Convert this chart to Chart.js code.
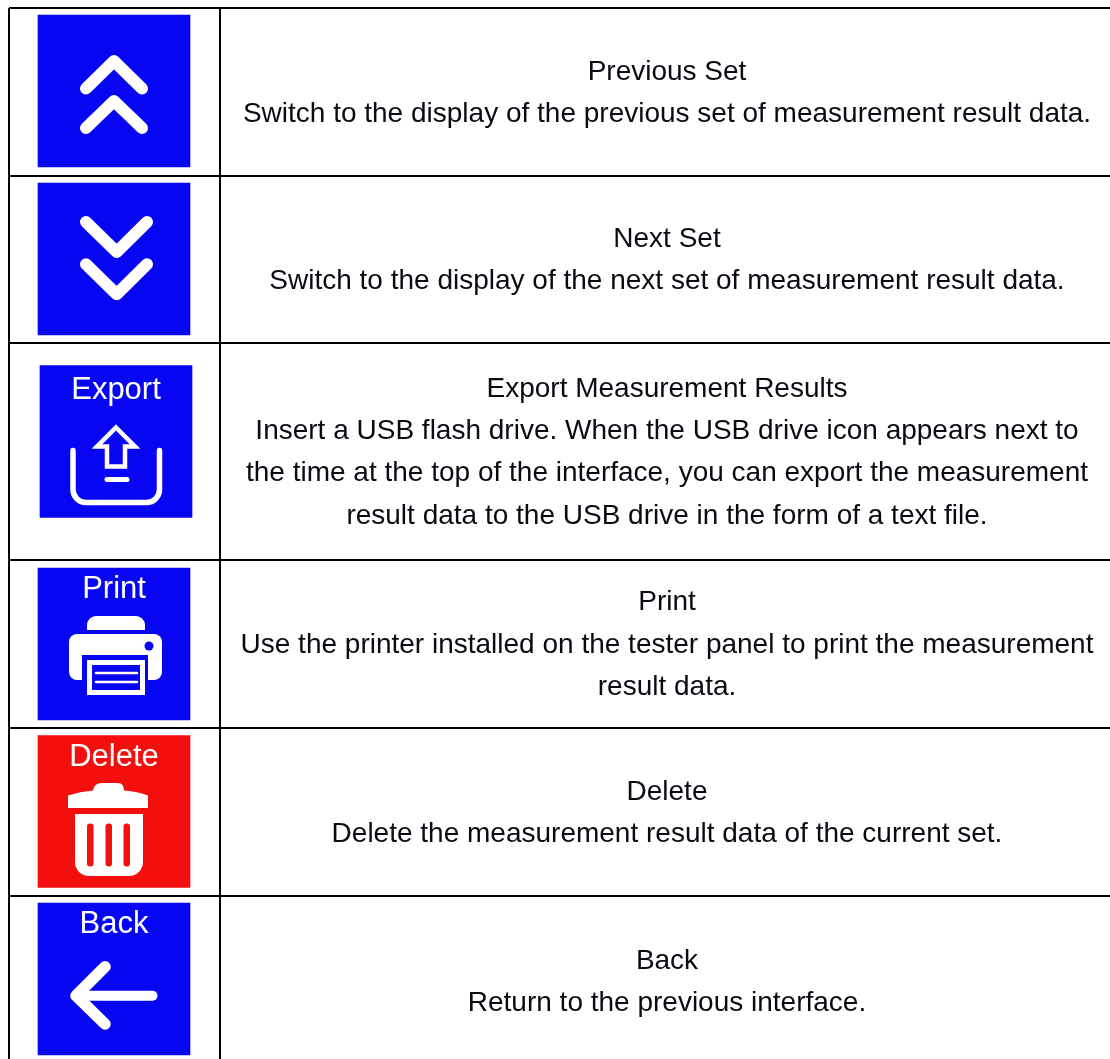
<!DOCTYPE html>
<html>
<head>
<meta charset="utf-8">
<title>Measurement result buttons</title>
<script src="https://cdn.jsdelivr.net/npm/chart.js@4"></script>
<style>
  html, body { margin: 0; padding: 0; background: #fff; overflow: hidden; }
  canvas { display: block; }
</style>
</head>
<body>
<canvas id="my-chart" width="1110" height="1059"></canvas>
<script>
const rowTitles = ['Previous Set', 'Next Set', 'Export Measurement Results', 'Print', 'Delete', 'Back'];
const rowDescriptions = [
  ['Switch to the display of the previous set of measurement result data.'],
  ['Switch to the display of the next set of measurement result data.'],
  ['Insert a USB flash drive. When the USB drive icon appears next to',
   'the time at the top of the interface, you can export the measurement',
   'result data to the USB drive in the form of a text file.'],
  ['Use the printer installed on the tester panel to print the measurement',
   'result data.'],
  ['Delete the measurement result data of the current set.'],
  ['Return to the previous interface.']
];
const iconKinds = ['up', 'down', 'export', 'print', 'delete', 'back'];
const iconLabels = ['', '', 'Export', 'Print', 'Delete', 'Back'];
const iconRows = [91, 259, 441.5, 644, 811.5, 979];
const iconStarts = [38, 38, 40, 38, 38, 38];
const iconEnds = [190, 190, 192, 190, 190, 190];
const rowEdges = [8, 176, 343, 560, 728, 896, 1067];
const columnEdges = [9, 220];

const BLUE = '#0606f2';
const RED = '#f40f0f';
const iconColors = iconKinds.map(kind => kind === 'delete' ? RED : BLUE);

function strokePath(ctx, points, width) {
  ctx.lineWidth = width;
  ctx.beginPath();
  points.forEach((p, i) => i ? ctx.lineTo(p[0], p[1]) : ctx.moveTo(p[0], p[1]));
  ctx.stroke();
}

function fillRound(ctx, x, y, w, h, r) {
  ctx.beginPath();
  ctx.roundRect(x, y, w, h, r);
  ctx.fill();
}

// glyphs are drawn around the middle of each bar
const glyphs = {
  up(ctx) {
    strokePath(ctx, [[-28, -2.5], [0, -30], [28, -2.5]], 12);
    strokePath(ctx, [[-28, 37], [0, 10], [28, 37]], 12);
  },
  down(ctx) {
    strokePath(ctx, [[-28, -37], [2.7, -7], [33, -37]], 12);
    strokePath(ctx, [[-28, 5.3], [2.7, 35.3], [33, 5.3]], 12);
  },
  export(ctx) {
    ctx.lineWidth = 5.5;
    ctx.beginPath();
    ctx.moveTo(-43, 9);
    ctx.lineTo(-43, 48);
    ctx.arcTo(-43, 61, -30, 61, 13);
    ctx.lineTo(30, 61);
    ctx.arcTo(43.5, 61, 43.5, 48, 13);
    ctx.lineTo(43.5, 9);
    ctx.stroke();
    strokePath(ctx, [[-9, 38], [11, 38]], 5);
    ctx.lineWidth = 4.5;
    ctx.lineJoin = 'miter';
    ctx.beginPath();
    [[0, -14], [19, 5], [9, 5], [9, 25], [-9, 25], [-9, 5], [-19, 5]]
      .forEach((p, i) => i ? ctx.lineTo(p[0], p[1]) : ctx.moveTo(p[0], p[1]));
    ctx.closePath();
    ctx.stroke();
  },
  print(ctx) {
    fillRound(ctx, -27, -28, 58, 14, [9, 9, 0, 0]);
    fillRound(ctx, -45, -10, 93, 46, 8);
    ctx.fillStyle = BLUE;
    ctx.fillRect(-32, 11, 66, 40);
    ctx.beginPath();
    ctx.arc(35, 2, 4.5, 0, Math.PI * 2);
    ctx.fill();
    ctx.fillStyle = '#fff';
    ctx.fillRect(-27, 16, 58, 35);
    ctx.fillStyle = BLUE;
    ctx.fillRect(-22, 21, 48, 25);
    strokePath(ctx, [[-18, 29], [23, 29]], 2.5);
    strokePath(ctx, [[-18, 38], [23, 38]], 2.5);
  },
  delete(ctx) {
    ctx.beginPath();
    ctx.moveTo(-46, -3.5);
    ctx.lineTo(-46, -16);
    ctx.quadraticCurveTo(-34, -20, -21, -21);
    ctx.quadraticCurveTo(-20, -28.5, -12, -28.5);
    ctx.lineTo(4, -28.5);
    ctx.quadraticCurveTo(10, -28.5, 10, -21);
    ctx.quadraticCurveTo(24, -20, 34, -16);
    ctx.lineTo(34, -3.5);
    ctx.closePath();
    ctx.fill();
    fillRound(ctx, -39, 2.5, 68, 62, [0, 0, 14, 14]);
    ctx.fillStyle = RED;
    [-24, -5.5, 12.5].forEach(x => fillRound(ctx, x - 3, 12, 6.5, 43, 3));
  },
  back(ctx) {
    strokePath(ctx, [[-32, 16.7], [38.5, 16.7]], 10);
    strokePath(ctx, [[-9, -12.3], [-38, 16.7], [-9, 45]], 11.5);
  }
};

const tablePlugin = {
  id: 'tablePlugin',
  afterDatasetsDraw(chart) {
    const { ctx, scales } = chart;
    const bars = chart.getDatasetMeta(0).data;

    ctx.save();
    bars.forEach((bar, i) => {
      const cx = (bar.x + bar.base) / 2;
      ctx.save();
      ctx.translate(cx, bar.y);
      ctx.strokeStyle = '#fff';
      ctx.fillStyle = '#fff';
      ctx.lineCap = 'round';
      ctx.lineJoin = 'round';
      glyphs[iconKinds[i]](ctx);
      ctx.restore();

      if (iconLabels[i]) {
        ctx.fillStyle = '#fff';
        ctx.font = '31px "Liberation Sans"';
        ctx.textAlign = 'center';
        ctx.textBaseline = 'alphabetic';
        ctx.fillText(iconLabels[i], cx, bar.y - 46 + (i === 2 ? 3 : 0));
      }
    });

    const textX = (scales.x.getPixelForValue(columnEdges[1]) + scales.x.max + 4) / 2;
    ctx.fillStyle = '#0a0a12';
    ctx.font = '28px "Liberation Sans"';
    ctx.textAlign = 'center';
    ctx.textBaseline = 'middle';
    rowTitles.forEach((title, i) => {
      const lines = [title].concat(rowDescriptions[i]);
      const mid = (scales.y.getPixelForValue(rowEdges[i]) + scales.y.getPixelForValue(rowEdges[i + 1])) / 2;
      lines.forEach((line, n) => {
        ctx.fillText(line, textX, mid + 1 + (n - (lines.length - 1) / 2) * 42.3);
      });
    });
    ctx.restore();
  }
};

const gridOptions = {
  color: '#000',
  lineWidth: 2,
  drawTicks: false,
  offset: false
};

new Chart(document.getElementById('my-chart').getContext('2d'), {
  type: 'bar',
  data: {
    datasets: [{
      data: iconRows.map((row, i) => ({ y: row, x: [iconStarts[i], iconEnds[i]] })),
      backgroundColor: iconColors,
      borderWidth: 0,
      barThickness: 152
    }]
  },
  options: {
    indexAxis: 'y',
    responsive: false,
    animation: false,
    layout: { padding: { left: 9, top: 8, right: 0, bottom: 0 } },
    plugins: { legend: { display: false }, tooltip: { enabled: false }, title: { display: false } },
    scales: {
      x: {
        type: 'linear',
        min: 9,
        max: 1110,
        grid: gridOptions,
        border: { display: false },
        ticks: { display: false, autoSkip: false },
        afterBuildTicks: scale => { scale.ticks = columnEdges.map(value => ({ value })); }
      },
      y: {
        type: 'linear',
        reverse: true,
        offset: false,
        min: 8,
        max: 1059,
        grid: gridOptions,
        border: { display: false },
        ticks: { display: false, autoSkip: false },
        afterBuildTicks: scale => { scale.ticks = rowEdges.map(value => ({ value })); }
      }
    }
  },
  plugins: [tablePlugin]
});
</script>
</body>
</html>
